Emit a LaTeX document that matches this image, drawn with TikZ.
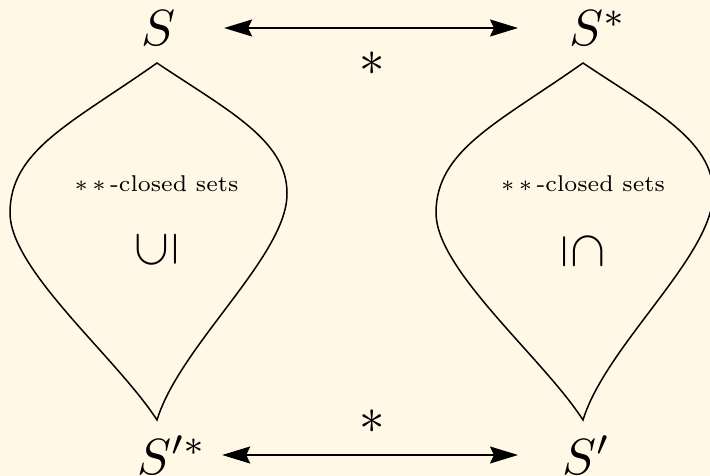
\documentclass[tikz,border=0pt]{standalone}
\usetikzlibrary{arrows.meta,calc}
\definecolor{bgcream}{HTML}{FFF8E7}
\begin{document}
\begin{tikzpicture}[x=1bp,y=-1bp,
  sym/.style={inner sep=0pt, scale=5.1},
  lbl/.style={inner sep=0pt, scale=3.27, font=\scriptsize},
  leaf/.style={line width=1.5bp, line join=miter},
  tip/.tip={Stealth[length=28bp,width=17bp,inset=4bp]},
  arr/.style={line width=1.6bp, tip-tip}]
\fill[bgcream] (0,0) rectangle (710,476);
\useasboundingbox (0,0) rectangle (710,476);

% corner symbols
\node[sym, anchor=base west] (S)   at (140.5,45.5) {$S$};
\node[sym, anchor=base west] (Ss)  at (568.5,45.5) {$S^*$};
\node[sym, anchor=base west] (Sps) at (136.5,474)  {$S'^*$};
\node[sym, anchor=base west] (Sp)  at (561.5,474)  {$S'$};

% arrows
\draw[arr] ($(S.base east)+(47.5,-17.5)$) -- ($(Ss.base west)+(-50.5,-17.5)$);
\draw[arr] ($(Sps.base east)+(14.5,-19)$) -- ($(Sp.base west)+(-43.5,-19)$);

% star labels
\node[sym] (t1) at (372,64)  {$\ast$};
\node[sym] (t2) at (372,422) {$\ast$};

% leaves
\foreach \dx in {0,426}
  \draw[leaf, xshift=\dx bp] (157,63) .. controls (72,123) and (10,150) .. (10,213)
     .. controls (10,270) and (117,358) .. (157,420)
     .. controls (180,345) and (288,255) .. (287,193)
     .. controls (287,140) and (227,110) .. (157,63) -- cycle;

% inner labels
\node[lbl, anchor=base] (L1) at (156.5,192) {$\ast\,\ast\,$-closed sets};
\node[lbl, anchor=base] (L2) at (583,192)   {$\ast\,\ast\,$-closed sets};
\node[sym, rotate=90]  (U1) at (156.5,250) {$\subseteq$};
\node[sym, rotate=-90] (U2) at (583,251)   {$\subseteq$};
\end{tikzpicture}
\end{document}
